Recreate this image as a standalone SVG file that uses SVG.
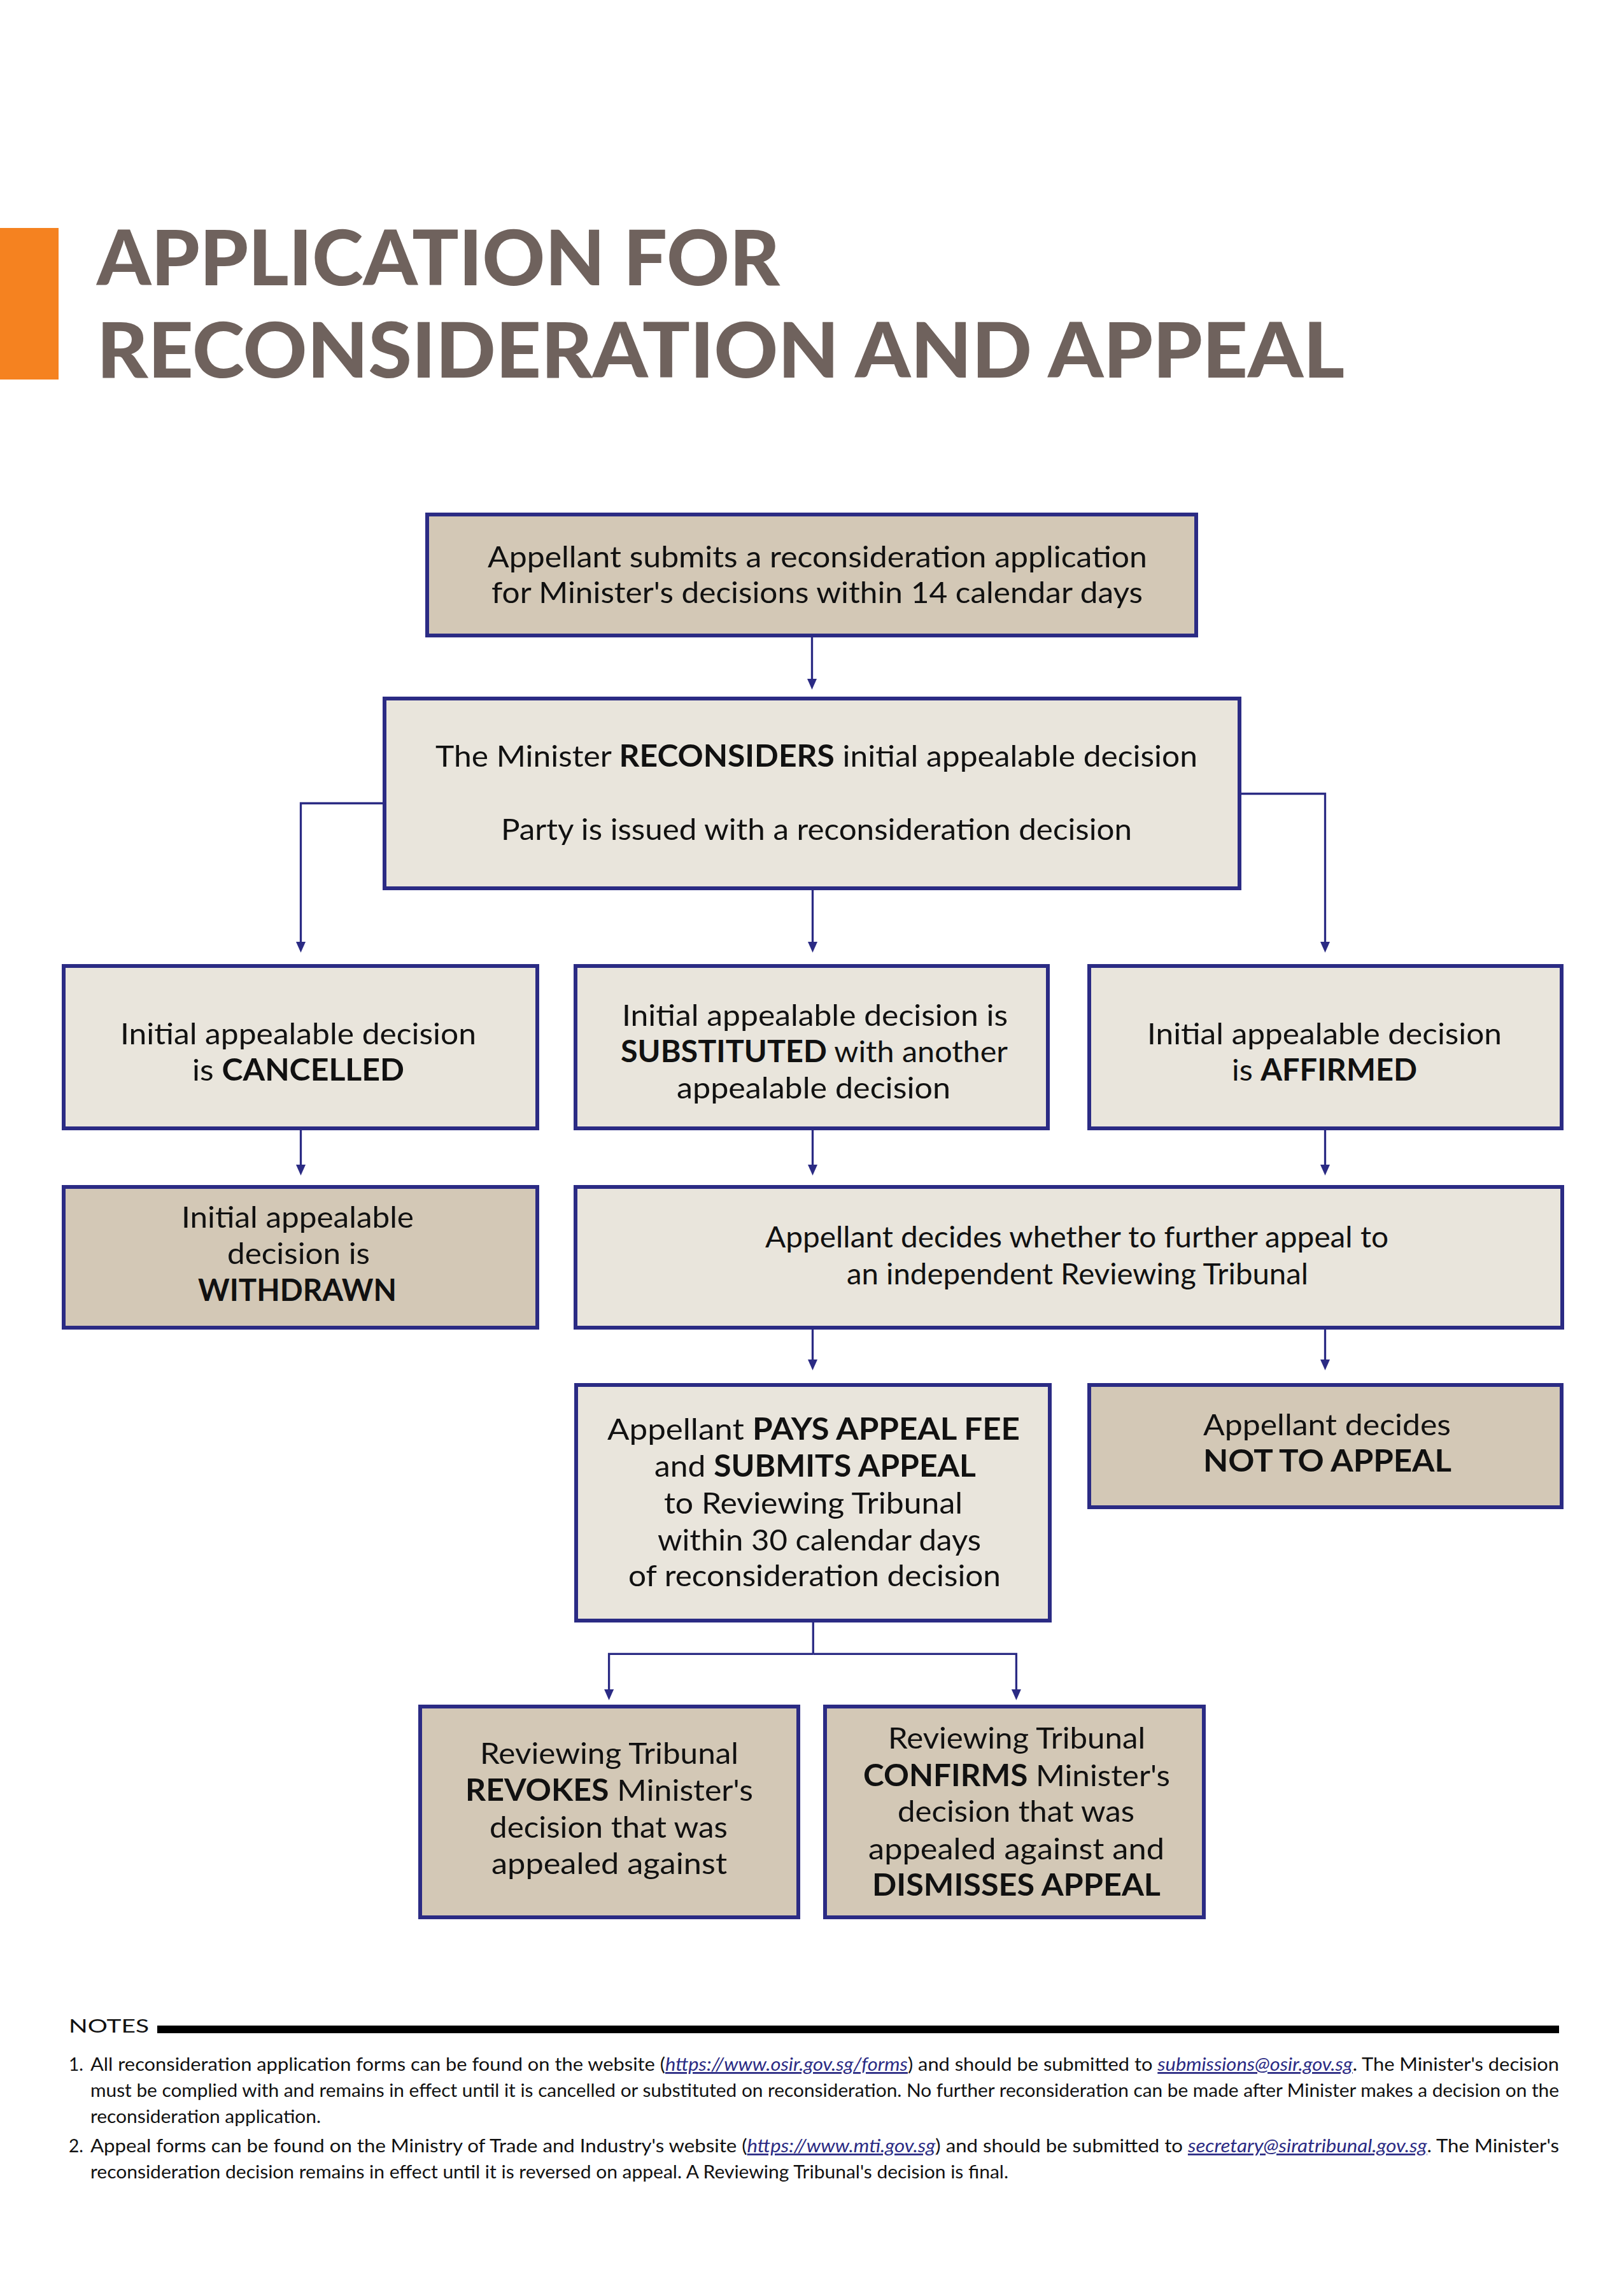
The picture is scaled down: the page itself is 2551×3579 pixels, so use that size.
<svg xmlns="http://www.w3.org/2000/svg" width="2551" height="3579" viewBox="0 0 2551 3579">
<style>
.bg{fill:#ffffff}
.light{fill:#E9E5DC;stroke:#2B2B84;stroke-width:6}
.dark{fill:#D3C8B6;stroke:#2B2B84;stroke-width:6}
.t{font-family:Lato,"Noto Sans","Liberation Sans",sans-serif;font-size:47px;fill:#111111}
.b{font-weight:700}
.title{font-family:Lato,"Noto Sans","Liberation Sans",sans-serif;font-size:120px;font-weight:900;fill:#6F625D}
.conn{fill:none;stroke:#2B2B84;stroke-width:3.3}
.note{font-family:Lato,"Noto Sans","Liberation Sans",sans-serif;font-size:28px;fill:#111111}
.lnk{fill:#2B2B84;font-style:italic;text-decoration:underline}
</style>
<defs>
<marker id="arr" markerUnits="userSpaceOnUse" markerWidth="18" markerHeight="16" refX="1" refY="7.5" orient="auto">
<path d="M0,0 L17,7.5 L0,15 z" fill="#2B2B84"/>
</marker>
</defs>
<rect class="bg" x="0" y="0" width="2551" height="3579"/>

<g id="header">
<rect x="0" y="358" width="92" height="238" fill="#F58220"/>
<text class="title" x="152" y="448" textLength="1073" lengthAdjust="spacingAndGlyphs">APPLICATION FOR</text>
<text class="title" x="152" y="593" textLength="1960" lengthAdjust="spacingAndGlyphs">RECONSIDERATION AND APPEAL</text>
</g>

<g id="connectors">
<path class="conn" d="M1275.5,1001 V1067" marker-end="url(#arr)"/>
<path class="conn" d="M604,1261.5 H472.5 V1480" marker-end="url(#arr)"/>
<path class="conn" d="M1276.5,1398 V1480" marker-end="url(#arr)"/>
<path class="conn" d="M1947,1246.5 H2081.5 V1480" marker-end="url(#arr)"/>
<path class="conn" d="M472.5,1775 V1830" marker-end="url(#arr)"/>
<path class="conn" d="M1276.5,1775 V1830" marker-end="url(#arr)"/>
<path class="conn" d="M2081.5,1775 V1830" marker-end="url(#arr)"/>
<path class="conn" d="M1276.5,2088 V2136" marker-end="url(#arr)"/>
<path class="conn" d="M2081.5,2088 V2136" marker-end="url(#arr)"/>
<path class="conn" d="M1277.3,2546 V2597.3"/>
<path class="conn" d="M1277.3,2597.3 H956.6 V2654" marker-end="url(#arr)"/>
<path class="conn" d="M1277.3,2597.3 H1596.4 V2654" marker-end="url(#arr)"/>
</g>

<g id="node-submit">
<rect class="dark" x="671" y="808" width="1208" height="190"/>
<text class="t" x="766" y="891" textLength="1036" lengthAdjust="spacingAndGlyphs">Appellant submits a reconsideration application</text>
<text class="t" x="772" y="947" textLength="1023" lengthAdjust="spacingAndGlyphs">for Minister's decisions within 14 calendar days</text>
</g>

<g id="node-reconsiders">
<rect class="light" x="604" y="1097" width="1343" height="298"/>
<text class="t" x="684" y="1204" textLength="1197" lengthAdjust="spacingAndGlyphs">The Minister <tspan class="b">RECONSIDERS</tspan> initial appealable decision</text>
<text class="t" x="787" y="1319" textLength="991" lengthAdjust="spacingAndGlyphs">Party is issued with a reconsideration decision</text>
</g>

<g id="node-cancelled">
<rect class="light" x="100" y="1517" width="744" height="255"/>
<text class="t" x="189" y="1640" textLength="559" lengthAdjust="spacingAndGlyphs">Initial appealable decision</text>
<text class="t" x="302" y="1697" textLength="333" lengthAdjust="spacingAndGlyphs">is <tspan class="b">CANCELLED</tspan></text>
</g>

<g id="node-substituted">
<rect class="light" x="904" y="1517" width="742" height="255"/>
<text class="t" x="977" y="1611" textLength="606" lengthAdjust="spacingAndGlyphs">Initial appealable decision is</text>
<text class="t" x="975" y="1668" textLength="608" lengthAdjust="spacingAndGlyphs"><tspan class="b">SUBSTITUTED</tspan> with another</text>
<text class="t" x="1063" y="1725" textLength="430" lengthAdjust="spacingAndGlyphs">appealable decision</text>
</g>

<g id="node-affirmed">
<rect class="light" x="1711" y="1517" width="742" height="255"/>
<text class="t" x="1802" y="1640" textLength="557" lengthAdjust="spacingAndGlyphs">Initial appealable decision</text>
<text class="t" x="1935" y="1697" textLength="291" lengthAdjust="spacingAndGlyphs">is <tspan class="b">AFFIRMED</tspan></text>
</g>

<g id="node-withdrawn">
<rect class="dark" x="100" y="1864" width="744" height="221"/>
<text class="t" x="285" y="1928" textLength="365" lengthAdjust="spacingAndGlyphs">Initial appealable</text>
<text class="t" x="357" y="1985" textLength="224" lengthAdjust="spacingAndGlyphs">decision is</text>
<text class="t b" x="311" y="2043" textLength="312" lengthAdjust="spacingAndGlyphs">WITHDRAWN</text>
</g>

<g id="node-decides">
<rect class="light" x="904" y="1864" width="1550" height="221"/>
<text class="t" x="1202" y="1959" textLength="979" lengthAdjust="spacingAndGlyphs">Appellant decides whether to further appeal to</text>
<text class="t" x="1330" y="2017" textLength="725" lengthAdjust="spacingAndGlyphs">an independent Reviewing Tribunal</text>
</g>

<g id="node-pays">
<rect class="light" x="905" y="2175" width="744" height="370"/>
<text class="t" x="954" y="2261" textLength="648" lengthAdjust="spacingAndGlyphs">Appellant <tspan class="b">PAYS APPEAL FEE</tspan></text>
<text class="t" x="1028" y="2319" textLength="505" lengthAdjust="spacingAndGlyphs">and <tspan class="b">SUBMITS APPEAL</tspan></text>
<text class="t" x="1043" y="2377" textLength="469" lengthAdjust="spacingAndGlyphs">to Reviewing Tribunal</text>
<text class="t" x="1033" y="2435" textLength="508" lengthAdjust="spacingAndGlyphs">within 30 calendar days</text>
<text class="t" x="987" y="2491" textLength="585" lengthAdjust="spacingAndGlyphs">of reconsideration decision</text>
</g>

<g id="node-not-appeal">
<rect class="dark" x="1711" y="2175" width="742" height="192"/>
<text class="t" x="1890" y="2254" textLength="389" lengthAdjust="spacingAndGlyphs">Appellant decides</text>
<text class="t b" x="1890" y="2311" textLength="390" lengthAdjust="spacingAndGlyphs">NOT TO APPEAL</text>
</g>

<g id="node-revokes">
<rect class="dark" x="660" y="2680" width="594" height="331"/>
<text class="t" x="754" y="2770" textLength="406" lengthAdjust="spacingAndGlyphs">Reviewing Tribunal</text>
<text class="t" x="731" y="2828" textLength="452" lengthAdjust="spacingAndGlyphs"><tspan class="b">REVOKES</tspan> Minister's</text>
<text class="t" x="769" y="2886" textLength="374" lengthAdjust="spacingAndGlyphs">decision that was</text>
<text class="t" x="772" y="2943" textLength="370" lengthAdjust="spacingAndGlyphs">appealed against</text>
</g>

<g id="node-confirms">
<rect class="dark" x="1296" y="2680" width="595" height="331"/>
<text class="t" x="1395" y="2746" textLength="404" lengthAdjust="spacingAndGlyphs">Reviewing Tribunal</text>
<text class="t" x="1356" y="2805" textLength="482" lengthAdjust="spacingAndGlyphs"><tspan class="b">CONFIRMS</tspan> Minister's</text>
<text class="t" x="1410" y="2861" textLength="372" lengthAdjust="spacingAndGlyphs">decision that was</text>
<text class="t" x="1364" y="2920" textLength="465" lengthAdjust="spacingAndGlyphs">appealed against and</text>
<text class="t b" x="1370" y="2977" textLength="453" lengthAdjust="spacingAndGlyphs">DISMISSES APPEAL</text>
</g>

<g id="notes">
<text class="note" x="108" y="3192" font-size="37" textLength="126" lengthAdjust="spacingAndGlyphs">NOTES</text>
<rect x="247" y="3181" width="2202" height="12" fill="#000000"/>
<text class="note" x="108" y="3252">1.</text>
<text class="note" x="142" y="3252" textLength="2307" lengthAdjust="spacingAndGlyphs">All reconsideration application forms can be found on the website (<tspan class="lnk">https://www.osir.gov.sg/forms</tspan>) and should be submitted to <tspan class="lnk">submissions@osir.gov.sg</tspan>. The Minister's decision</text>
<text class="note" x="142" y="3293" textLength="2307" lengthAdjust="spacingAndGlyphs">must be complied with and remains in effect until it is cancelled or substituted on reconsideration. No further reconsideration can be made after Minister makes a decision on the</text>
<text class="note" x="142" y="3334" textLength="362" lengthAdjust="spacingAndGlyphs">reconsideration application.</text>
<text class="note" x="108" y="3380">2.</text>
<text class="note" x="142" y="3380" textLength="2307" lengthAdjust="spacingAndGlyphs">Appeal forms can be found on the Ministry of Trade and Industry's website (<tspan class="lnk">https://www.mti.gov.sg</tspan>) and should be submitted to <tspan class="lnk">secretary@siratribunal.gov.sg</tspan>. The Minister's</text>
<text class="note" x="142" y="3421" textLength="1442" lengthAdjust="spacingAndGlyphs">reconsideration decision remains in effect until it is reversed on appeal. A Reviewing Tribunal's decision is final.</text>
</g>
</svg>
